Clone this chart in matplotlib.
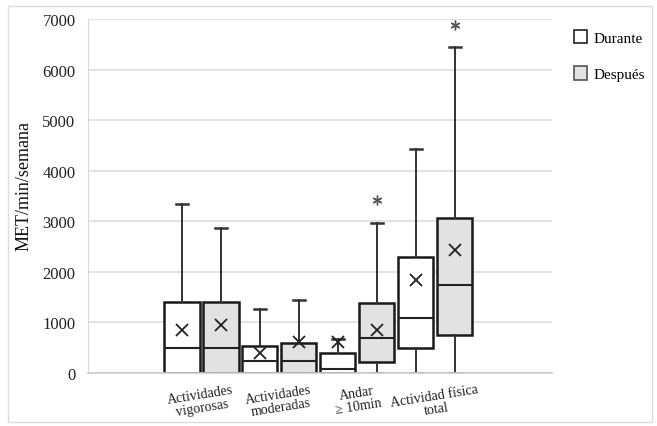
import numpy as np
import matplotlib.pyplot as plt
from matplotlib.patches import Patch, Rectangle

plt.rcParams['font.family'] = ['Liberation Serif', 'DejaVu Serif']

# datos (MET/min/semana)
categorias = ['Actividades\nvigorosas', 'Actividades\nmoderadas',
              'Andar\n≥ 10min', 'Actividad física\ntotal']

durante_whislo = [0, 0, 0, 0]
durante_q1 = [0, 0, 0, 495]
durante_med = [490, 240, 80, 1090]
durante_q3 = [1400, 535, 395, 2300]
durante_whishi = [3350, 1265, 670, 4420]
durante_mean = [860, 400, 615, 1830]

despues_whislo = [0, 0, 0, 0]
despues_q1 = [0, 0, 220, 750]
despues_med = [490, 240, 690, 1745]
despues_q3 = [1400, 595, 1385, 3070]
despues_whishi = [2870, 1445, 2970, 6440]
despues_mean = [950, 615, 850, 2440]
despues_outliers = [[], [], [3430], [6890]]

color_durante = 'white'
color_despues = '#e2e2e2'


def stats(lo, q1, med, q3, hi, mean, fl):
    return dict(whislo=lo, q1=q1, med=med, q3=q3, whishi=hi, mean=mean, fliers=fl)


fig = plt.figure(figsize=(6.57, 4.27), dpi=100)
ax = fig.add_axes([88 / 657, 53 / 427, 464 / 657, 354 / 427])

n = len(categorias)
pos_dur = np.arange(n) * 2
pos_des = pos_dur + 1

st_dur = [stats(durante_whislo[i], durante_q1[i], durante_med[i], durante_q3[i],
                durante_whishi[i], durante_mean[i], []) for i in range(n)]
st_des = [stats(despues_whislo[i], despues_q1[i], despues_med[i], despues_q3[i],
                despues_whishi[i], despues_mean[i], despues_outliers[i]) for i in range(n)]

estilo = dict(widths=0.9, patch_artist=True, showmeans=True, showfliers=True,
              medianprops=dict(color='#222222', lw=1.5),
              whiskerprops=dict(color='#333333', lw=1.4),
              capprops=dict(color='#333333', lw=1.8),
              meanprops=dict(marker='x', markeredgecolor='#222222', markersize=9,
                             markeredgewidth=1.3),
              flierprops=dict(marker=(6, 2, 0), markeredgecolor='#555555',
                              markersize=7, markeredgewidth=1.0))

b1 = ax.bxp(st_dur, positions=pos_dur, **estilo)
b2 = ax.bxp(st_des, positions=pos_des, **estilo)
for p in b1['boxes']:
    p.set_facecolor(color_durante)
    p.set_edgecolor('#1a1a1a')
    p.set_linewidth(1.8)
for p in b2['boxes']:
    p.set_facecolor(color_despues)
    p.set_edgecolor('#1a1a1a')
    p.set_linewidth(1.8)
for c in b1['caps'] + b2['caps']:
    x = c.get_xdata()
    m = x.mean()
    c.set_xdata([m - 0.15, m + 0.15])

ax.set_xlim(-2.41, 9.49)
ax.set_ylim(0, 7000)
ax.set_yticks(np.arange(0, 7001, 1000))
ax.tick_params(axis='y', length=0, labelsize=12, pad=9, colors='#222222')
ax.set_xticks(pos_dur + 0.5)
ax.set_xticklabels(categorias, rotation=9, fontsize=10, linespacing=1.0)
ax.tick_params(axis='x', length=0, pad=7, colors='#222222')
ax.grid(axis='y', color='#dedede', lw=1.2)
ax.set_axisbelow(True)
for s in ['top', 'right']:
    ax.spines[s].set_visible(False)
ax.spines['left'].set_color('#d8d8d8')
ax.spines['bottom'].set_color('#cccccc')
ax.spines['bottom'].set_linewidth(1.2)
ax.set_ylabel('MET/min/semana', fontsize=13, color='#111111')
ax.yaxis.set_label_coords(-0.12, 0.53)

handles = [Patch(facecolor=color_durante, edgecolor='#222222', lw=1.2, label='Durante'),
           Patch(facecolor=color_despues, edgecolor='#555555', lw=1.2, label='Después')]
fig.legend(handles=handles, loc='upper left', bbox_to_anchor=(563 / 657, 1 - 20 / 427),
           frameon=False, fontsize=11, handlelength=0.9, handleheight=1.0,
           labelspacing=1.4, handletextpad=0.4, borderaxespad=0.3)

fig.patches.append(Rectangle((8 / 657, 4 / 427), 644 / 657, 416 / 427, fill=False,
                             edgecolor='#dddddd', lw=1, transform=fig.transFigure))

fig.savefig('out.png', dpi=100)
